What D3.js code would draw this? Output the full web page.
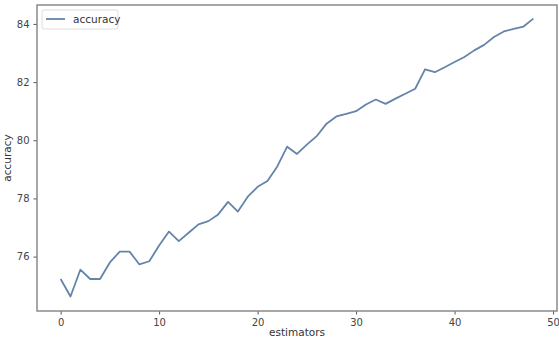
<!DOCTYPE html>
<html>
<head>
<meta charset="utf-8">
<script src="https://cdn.jsdelivr.net/npm/d3@7"></script>
<style>
  body { margin: 0; background: #fff; }
  svg { display: block; }
  text { font-family: "DejaVu Sans", sans-serif; }
</style>
</head>
<body>
<svg id="chart" width="559" height="343"></svg>
<script>
const estimators = d3.range(0, 49);
const accuracy = [
  75.23, 74.63, 75.55, 75.23, 75.23, 75.80, 76.17, 76.17, 75.73, 75.84,
  76.38, 76.86, 76.53, 76.82, 77.11, 77.22, 77.45, 77.88, 77.55, 78.06,
  78.40, 78.60, 79.10, 79.78, 79.53, 79.85, 80.14, 80.57, 80.82, 80.91,
  81.00, 81.23, 81.40, 81.25, 81.43, 81.60, 81.77, 82.44, 82.34, 82.51,
  82.69, 82.86, 83.09, 83.28, 83.55, 83.74, 83.83, 83.91, 84.18
];
const xTicks = [0, 10, 20, 30, 40, 50];
const yTicks = [76, 78, 80, 82, 84];
const seriesName = "accuracy";
const xLabel = "estimators";
const yLabel = "accuracy";

const svg = d3.select("#chart");
const L = 37, R = 557, T = 5, B = 311;

const x = d3.scaleLinear().domain([-2.4, 50.4]).range([L, R]);
const y = d3.scaleLinear().domain([74.13, 84.65]).range([B, T]);

const tickColor = "#555";
const spineColor = "#8a8a8a";

// x axis
const gx = svg.append("g").attr("transform", `translate(0,${B})`)
  .call(d3.axisBottom(x).tickValues(xTicks).tickSize(3.5).tickPadding(4).tickFormat(d3.format("d")));
gx.select(".domain").remove();
gx.selectAll(".tick line").attr("stroke", tickColor);
gx.selectAll(".tick text").attr("fill", "#444").style("font-size", "10px");

// y axis
const gy = svg.append("g").attr("transform", `translate(${L},0)`)
  .call(d3.axisLeft(y).tickValues(yTicks).tickSize(3.5).tickPadding(4).tickFormat(d3.format("d")));
gy.select(".domain").remove();
gy.selectAll(".tick line").attr("stroke", tickColor);
gy.selectAll(".tick text").attr("fill", "#444").style("font-size", "10px");

// frame
svg.append("rect").attr("x", L).attr("y", T).attr("width", R - L).attr("height", B - T)
  .attr("fill", "none").attr("stroke", spineColor).attr("stroke-width", 1.5);

// line
const line = d3.line().x((d, i) => x(estimators[i])).y(d => y(d));
svg.append("path").datum(accuracy)
  .attr("d", line).attr("fill", "none")
  .attr("stroke", "#6584aa").attr("stroke-width", 1.8).attr("stroke-linejoin", "round");

// axis labels
svg.append("text").attr("x", (L + R) / 2).attr("y", 336).attr("text-anchor", "middle")
  .attr("fill", "#333").style("font-size", "10.5px").text(xLabel);
svg.append("text").attr("transform", `translate(11,${(T + B) / 2}) rotate(-90)`)
  .attr("text-anchor", "middle").attr("fill", "#333").style("font-size", "10.5px").text(yLabel);

// legend
const lg = svg.append("g");
lg.append("rect").attr("x", 42).attr("y", 10).attr("width", 76).attr("height", 19).attr("rx", 2)
  .attr("fill", "#fff").attr("stroke", "#ddd");
lg.append("line").attr("x1", 46).attr("x2", 65).attr("y1", 19).attr("y2", 19)
  .attr("stroke", "#6584aa").attr("stroke-width", 1.8);
lg.append("text").attr("x", 73).attr("y", 22.5).attr("fill", "#333").style("font-size", "10.5px").text(seriesName);
</script>
</body>
</html>
